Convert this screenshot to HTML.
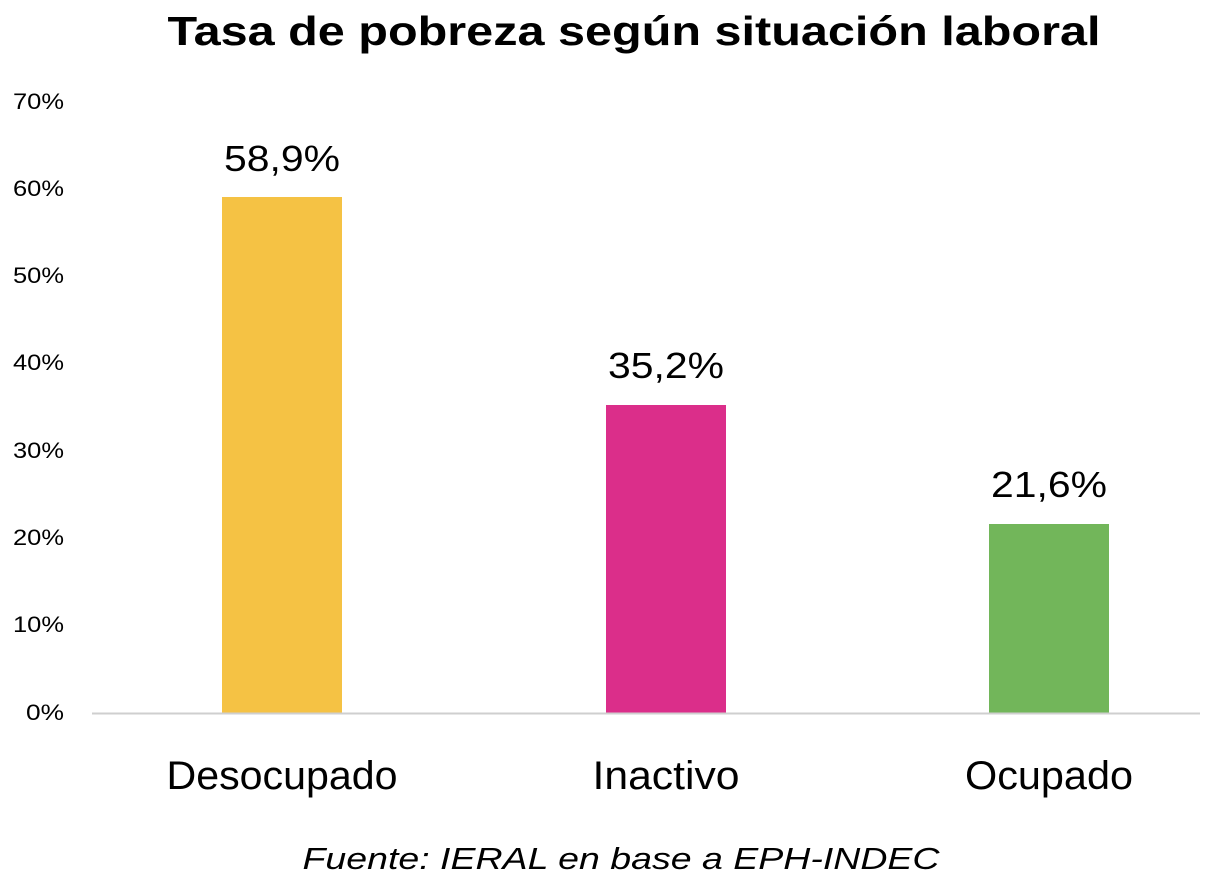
<!DOCTYPE html>
<html><head><meta charset="utf-8"><style>
html,body{margin:0;padding:0;background:#fff;}
svg{display:block;font-family:"Liberation Sans","DejaVu Sans",sans-serif;}
</style></head><body>
<svg width="1222" height="892" viewBox="0 0 1222 892" xmlns="http://www.w3.org/2000/svg">
<text x="634" y="45" text-anchor="middle" font-size="41" font-weight="bold" fill="#000" textLength="933" lengthAdjust="spacingAndGlyphs">Tasa de pobreza según situación laboral</text>
<g font-size="22" fill="#000" text-anchor="end">
<text x="64" y="109" textLength="51" lengthAdjust="spacingAndGlyphs">70%</text>
<text x="64" y="196" textLength="51" lengthAdjust="spacingAndGlyphs">60%</text>
<text x="64" y="283" textLength="51" lengthAdjust="spacingAndGlyphs">50%</text>
<text x="64" y="370" textLength="51" lengthAdjust="spacingAndGlyphs">40%</text>
<text x="64" y="458" textLength="51" lengthAdjust="spacingAndGlyphs">30%</text>
<text x="64" y="545" textLength="51" lengthAdjust="spacingAndGlyphs">20%</text>
<text x="64" y="632" textLength="51" lengthAdjust="spacingAndGlyphs">10%</text>
<text x="64" y="720" textLength="38" lengthAdjust="spacingAndGlyphs">0%</text>
</g>
<rect x="222" y="197" width="120" height="516" fill="#F5C244"/>
<rect x="606" y="405" width="120" height="308" fill="#DB2E8A"/>
<rect x="989" y="524" width="120" height="189" fill="#72B65A"/>
<line x1="92" y1="713.5" x2="1200" y2="713.5" stroke="#cfcfcf" stroke-width="2"/>
<g font-size="36" fill="#000" text-anchor="middle">
<text x="282" y="171" textLength="116" lengthAdjust="spacingAndGlyphs">58,9%</text>
<text x="666" y="378" textLength="116" lengthAdjust="spacingAndGlyphs">35,2%</text>
<text x="1049" y="497" textLength="116" lengthAdjust="spacingAndGlyphs">21,6%</text>
</g>
<g font-size="40" fill="#000" text-anchor="middle">
<text x="282" y="789" textLength="231" lengthAdjust="spacingAndGlyphs">Desocupado</text>
<text x="666" y="789" textLength="147" lengthAdjust="spacingAndGlyphs">Inactivo</text>
<text x="1049" y="789" textLength="168" lengthAdjust="spacingAndGlyphs">Ocupado</text>
</g>
<text x="621" y="869" text-anchor="middle" font-size="31" font-style="italic" fill="#000" textLength="637" lengthAdjust="spacingAndGlyphs">Fuente: IERAL en base a EPH-INDEC</text>
</svg>
</body></html>
